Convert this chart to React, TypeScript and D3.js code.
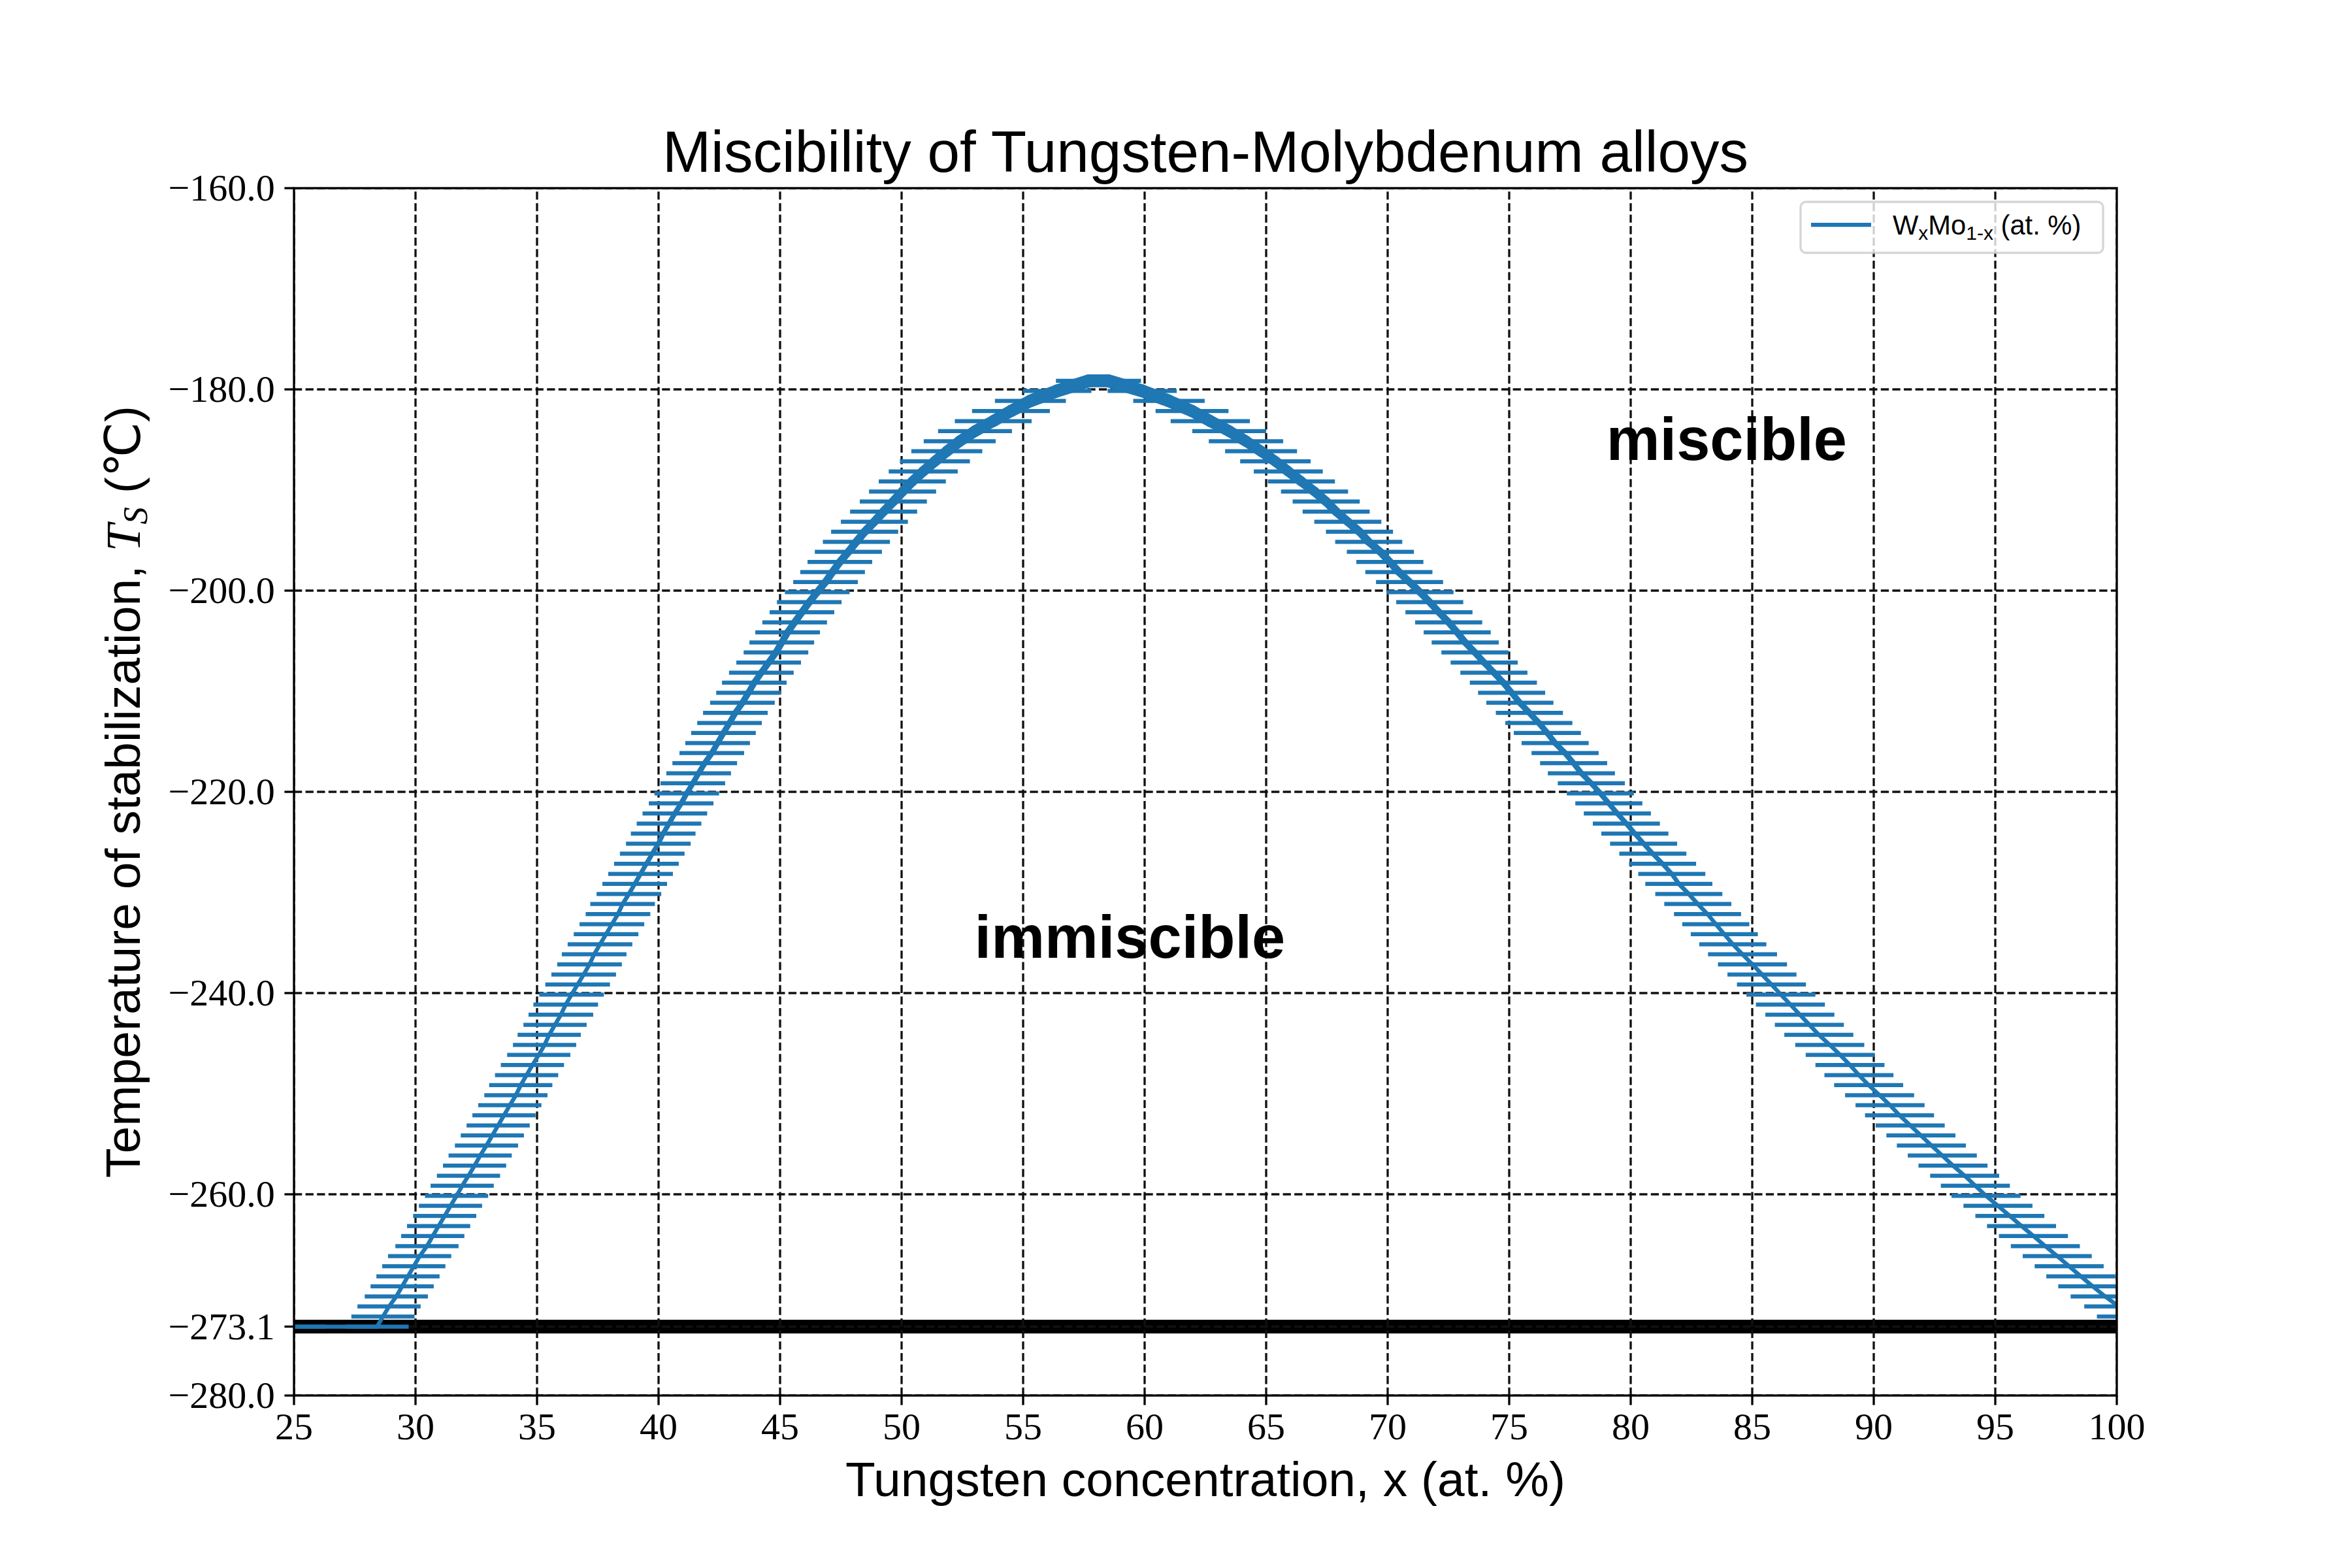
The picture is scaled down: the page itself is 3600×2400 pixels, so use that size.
import * as d3 from 'd3';

const WIDTH = 3600;
const HEIGHT = 2400;
const ABS_ZERO = -273.15;

// axis ticks
const xTicks = [25, 30, 35, 40, 45, 50, 55, 60, 65, 70, 75, 80, 85, 90, 95, 100];
const yTicks = [-280, -273.15, -260, -240, -220, -200, -180, -160];

// stabilization temperature rows (K)
const tempKelvin = [
  0, 1, 2, 3, 4, 5, 6, 7, 8, 9,
  10, 11, 12, 13, 14, 15, 16, 17, 18, 19,
  20, 21, 22, 23, 24, 25, 26, 27, 28, 29,
  30, 31, 32, 33, 34, 35, 36, 37, 38, 39,
  40, 41, 42, 43, 44, 45, 46, 47, 48, 49,
  50, 51, 52, 53, 54, 55, 56, 57, 58, 59,
  60, 61, 62, 63, 64, 65, 66, 67, 68, 69,
  70, 71, 72, 73, 74, 75, 76, 77, 78, 79,
  80, 81, 82, 83, 84, 85, 86, 87, 88, 89,
  90, 91, 92, 93, 94,
];

// concentrations clamped at 0 K before the left branch starts
const zeroKelvinX = [25];

// left branch (W-poor side), one value per row of tempKelvin
const leftX = [
  28.42, 28.66, 28.91, 29.21, 29.45, 29.69, 29.93, 30.17, 30.47, 30.71,
  30.95, 31.2, 31.44, 31.69, 31.92, 32.18, 32.43, 32.66, 32.92, 33.16,
  33.4, 33.64, 33.88, 34.13, 34.33, 34.57, 34.81, 35.07, 35.31, 35.5,
  35.74, 35.98, 36.18, 36.42, 36.67, 36.92, 37.16, 37.35, 37.59, 37.84,
  38.08, 38.33, 38.52, 38.78, 39.02, 39.26, 39.5, 39.74, 39.99, 40.19,
  40.43, 40.67, 40.93, 41.16, 41.41, 41.65, 41.9, 42.19, 42.43, 42.67,
  42.92, 43.16, 43.45, 43.7, 43.94, 44.23, 44.53, 44.83, 45.07, 45.31,
  45.6, 45.9, 46.2, 46.53, 46.87, 47.16, 47.46, 47.81, 48.14, 48.48,
  48.88, 49.26, 49.66, 50.04, 50.44, 50.89, 51.37, 51.86, 52.39, 53.02,
  53.77, 54.5, 55.3, 56.4, 57.7,
];
const leftErr = [
  1.3, 1.3, 1.3, 1.3, 1.3, 1.3, 1.3, 1.3, 1.3, 1.3,
  1.3, 1.3, 1.3, 1.3, 1.3, 1.3, 1.3, 1.3, 1.3, 1.3,
  1.3, 1.3, 1.3, 1.3, 1.3, 1.3, 1.3, 1.3, 1.3, 1.3,
  1.3, 1.33, 1.33, 1.33, 1.33, 1.33, 1.33, 1.33, 1.33, 1.33,
  1.33, 1.33, 1.33, 1.33, 1.33, 1.33, 1.33, 1.33, 1.33, 1.33,
  1.33, 1.33, 1.33, 1.33, 1.33, 1.33, 1.33, 1.33, 1.33, 1.33,
  1.33, 1.33, 1.33, 1.33, 1.33, 1.33, 1.33, 1.33, 1.33, 1.33,
  1.33, 1.33, 1.33, 1.33, 1.33, 1.33, 1.33, 1.38, 1.38, 1.38,
  1.38, 1.38, 1.38, 1.38, 1.38, 1.42, 1.44, 1.46, 1.48, 1.52,
  1.58, 1.6, 1.46, 1.41, 1.35,
];

// right branch (W-rich side), rows 1 K .. 94 K
const rightX = [
  100.6, 100.08, 99.52, 99.01, 98.52, 98.04, 97.55, 97.06, 96.57,
  96.08, 95.6, 95.11, 94.62, 94.18, 93.74, 93.26, 92.82, 92.37, 91.94,
  91.5, 91.06, 90.67, 90.24, 89.79, 89.39, 89.02, 88.62, 88.19, 87.74,
  87.35, 86.96, 86.57, 86.18, 85.79, 85.4, 85.01, 84.6, 84.2, 83.85,
  83.5, 83.16, 82.76, 82.39, 81.98, 81.69, 81.31, 80.91, 80.53, 80.17,
  79.82, 79.45, 79.1, 78.75, 78.38, 77.97, 77.65, 77.3, 76.89, 76.57,
  76.22, 75.83, 75.44, 75.1, 74.76, 74.37, 73.97, 73.59, 73.19, 72.86,
  72.51, 72.11, 71.73, 71.33, 70.9, 70.46, 70.09, 69.7, 69.22, 68.84,
  68.36, 67.88, 67.47, 66.99, 66.45, 65.91, 65.38, 64.79, 64.17, 63.48,
  62.7, 61.95, 61.0, 59.9, 58.5,
];
const rightErr = [
  1.42, 1.42, 1.42, 1.42, 1.42, 1.42, 1.42, 1.42, 1.42,
  1.42, 1.42, 1.42, 1.42, 1.42, 1.42, 1.42, 1.42, 1.42, 1.42,
  1.42, 1.42, 1.42, 1.42, 1.42, 1.42, 1.42, 1.42, 1.42, 1.42,
  1.42, 1.42, 1.42, 1.42, 1.42, 1.42, 1.42, 1.42, 1.38, 1.38,
  1.38, 1.38, 1.38, 1.38, 1.38, 1.38, 1.38, 1.38, 1.38, 1.38,
  1.38, 1.38, 1.38, 1.38, 1.38, 1.38, 1.38, 1.38, 1.38, 1.38,
  1.38, 1.38, 1.38, 1.38, 1.38, 1.38, 1.38, 1.38, 1.38, 1.38,
  1.38, 1.38, 1.38, 1.38, 1.38, 1.38, 1.38, 1.38, 1.38, 1.38,
  1.38, 1.38, 1.38, 1.38, 1.38, 1.42, 1.45, 1.48, 1.53, 1.52,
  1.63, 1.5, 1.47, 1.42, 1.35,
];

// text annotations [x, T, label]
const annotations: [number, number, string][] = [
  [79, -187, 'miscible'],
  [53, -236.5, 'immiscible'],
];

const BLUE = '#1f77b4';
const SERIF = '"Liberation Serif", "DejaVu Serif", serif';
const SANS = '"Liberation Sans", Arial, "DejaVu Sans", sans-serif';

interface Pt { x: number; t: number; e: number }

export default function App() {
  const left = 450, right = 3240, top = 288, bottom = 2136;
  const x = d3.scaleLinear().domain([25, 100]).range([left, right]);
  const y = d3.scaleLinear().domain([-280, -160]).range([bottom, top]);
  const fmt = d3.format('.1f');

  const start: Pt[] = zeroKelvinX.map(v => ({ x: v, t: tempKelvin[0] + ABS_ZERO, e: leftErr[0] }));
  const leftPts: Pt[] = leftX.map((v, i) => ({ x: v, t: tempKelvin[i] + ABS_ZERO, e: leftErr[i] }));
  const rightPts: Pt[] = rightX
    .map((v, i) => ({ x: v, t: tempKelvin[i + 1] + ABS_ZERO, e: rightErr[i] }))
    .reverse();
  const pts = [...start, ...leftPts, ...rightPts];

  // the connecting line looks heavier where the branches flatten out
  const lineWidth = d3.scaleLinear().domain([-232, -195, -179]).range([6.25, 12, 20]).clamp(true);
  const segments = d3.pairs(pts);

  const gridStyle = { stroke: '#111', strokeWidth: 3.33, strokeDasharray: '12.3,5.3' };
  const tick = 14.6;

  return (
    <svg
      width={WIDTH}
      height={HEIGHT}
      viewBox={`0 0 ${WIDTH} ${HEIGHT}`}
      style={{ position: 'absolute', left: 0, top: 0, background: '#fff' }}
    >
      <defs>
        <clipPath id="plot-area">
          <rect x={left} y={top} width={right - left} height={bottom - top} />
        </clipPath>
      </defs>
      <rect width={WIDTH} height={HEIGHT} fill="#fff" />

      <g clipPath="url(#plot-area)">
        {/* absolute zero */}
        <line x1={left} x2={right} y1={y(ABS_ZERO)} y2={y(ABS_ZERO)} stroke="#000" strokeWidth={20.8} />

        {/* grid */}
        {xTicks.map(v => (
          <line key={'gx' + v} x1={x(v)} x2={x(v)} y1={bottom} y2={top} {...gridStyle} />
        ))}
        {yTicks.map(v => (
          <line key={'gy' + v} x1={left} x2={right} y1={y(v)} y2={y(v)} {...gridStyle} />
        ))}

        {/* horizontal error bars */}
        {pts.map((d, i) => (
          <line
            key={'e' + i}
            x1={x(d.x - d.e)}
            x2={x(d.x + d.e)}
            y1={y(d.t)}
            y2={y(d.t)}
            stroke={BLUE}
            strokeWidth={6.25}
          />
        ))}
        {/* data line */}
        {segments.map(([a, b], i) => (
          <line
            key={'s' + i}
            x1={x(a.x)}
            y1={y(a.t)}
            x2={x(b.x)}
            y2={y(b.t)}
            stroke={BLUE}
            strokeWidth={lineWidth(Math.max(a.t, b.t))}
            strokeLinecap="round"
          />
        ))}
      </g>

      {/* annotations */}
      {annotations.map(([ax, at, label]) => (
        <text
          key={label}
          x={x(ax)}
          y={y(at)}
          fontFamily={SANS}
          fontWeight="bold"
          fontSize={92}
          fill="#000"
        >
          {label}
        </text>
      ))}

      {/* spines */}
      <rect x={left} y={top} width={right - left} height={bottom - top} fill="none" stroke="#000" strokeWidth={3.33} />

      {/* x ticks */}
      {xTicks.map(v => (
        <g key={'tx' + v}>
          <line x1={x(v)} x2={x(v)} y1={bottom} y2={bottom + tick} stroke="#000" strokeWidth={3.33} />
          <text x={x(v)} y={bottom + 67} textAnchor="middle" fontFamily={SERIF} fontSize={58}>
            {v}
          </text>
        </g>
      ))}

      {/* y ticks */}
      {yTicks.map(v => (
        <g key={'ty' + v}>
          <line x1={left - tick} x2={left} y1={y(v)} y2={y(v)} stroke="#000" strokeWidth={3.33} />
          <text x={left - tick - 14.6} y={y(v) + 19} textAnchor="end" fontFamily={SERIF} fontSize={58}>
            {fmt(v)}
          </text>
        </g>
      ))}

      {/* title and axis labels */}
      <text x={(left + right) / 2} y={263} textAnchor="middle" fontFamily={SANS} fontSize={89}>
        Miscibility of Tungsten-Molybdenum alloys
      </text>
      <text x={(left + right) / 2} y={2290} textAnchor="middle" fontFamily={SANS} fontSize={75}>
        Tungsten concentration, x (at. %)
      </text>
      <text
        transform={`translate(214, ${(top + bottom) / 2}) rotate(-90)`}
        textAnchor="middle"
        fontFamily={SANS}
        fontSize={75}
      >
        Temperature of stabilization,{' '}
        <tspan fontFamily={SERIF} fontStyle="italic">T</tspan>
        <tspan fontFamily={SERIF} fontStyle="italic" fontSize={53} dy={11}>S</tspan>
        <tspan dy={-11}> (℃)</tspan>
      </text>

      {/* legend */}
      <g>
        <rect
          x={2756}
          y={309}
          width={463}
          height={78}
          rx={8}
          fill="#fff"
          fillOpacity={0.8}
          stroke="#ccc"
          strokeOpacity={0.8}
          strokeWidth={3.33}
        />
        <line x1={2772} x2={2864} y1={344} y2={344} stroke={BLUE} strokeWidth={6.25} />
        <text x={2897} y={359} fontFamily={SANS} fontSize={41.7}>
          W<tspan fontSize={30} dy={8}>x</tspan>
          <tspan dy={-8}>Mo</tspan>
          <tspan fontSize={30} dy={8}>1-x</tspan>
          <tspan dy={-8}> (at. %)</tspan>
        </text>
      </g>
    </svg>
  );
}
